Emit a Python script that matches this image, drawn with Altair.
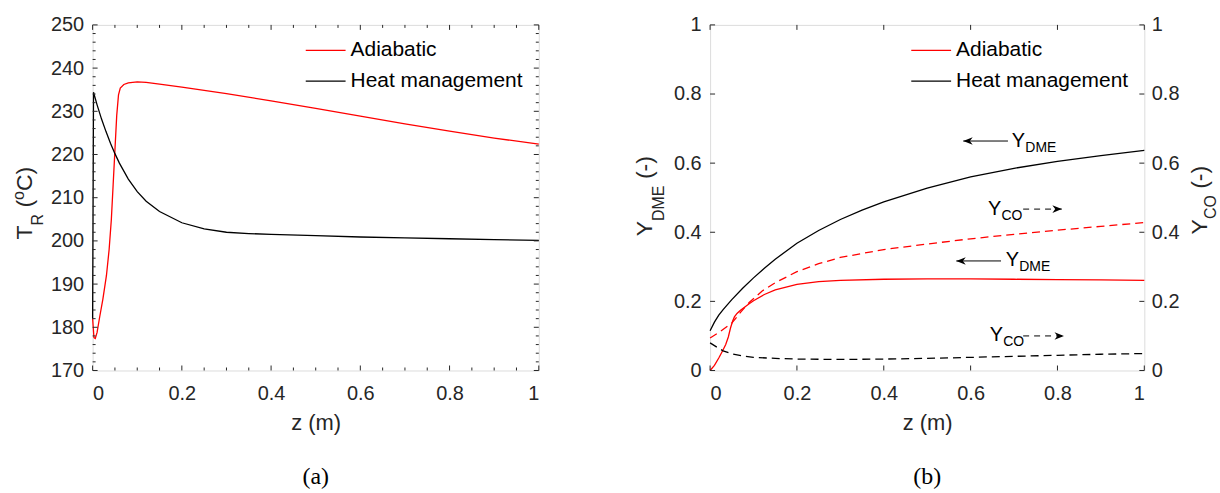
import altair as alt
import pandas as pd

# ---------------- data: panel (a) ----------------
z_TA = [0, 0.003, 0.006, 0.010, 0.016, 0.023, 0.031, 0.037, 0.042, 0.046, 0.050, 0.054,
        0.058, 0.062, 0.070, 0.080, 0.100, 0.120, 0.150, 0.200, 0.300, 0.400, 0.500,
        0.600, 0.700, 0.800, 0.900, 1.000]
T_A = [182.0, 177.6, 177.4, 178.8, 182.5, 186.5, 192.0, 198.0, 205.0, 213.0, 221.0, 229.0,
       233.8, 235.4, 236.2, 236.6, 236.8, 236.7, 236.3, 235.6, 234.1, 232.4, 230.7,
       228.9, 227.1, 225.4, 223.8, 222.4]
z_TH = [0, 0.002, 0.010, 0.020, 0.030, 0.040, 0.050, 0.060, 0.080, 0.100, 0.120, 0.150,
        0.200, 0.250, 0.300, 0.350, 0.400, 0.500, 0.600, 0.700, 0.800, 0.900, 1.000]
T_H = [182.0, 234.4, 231.5, 228.2, 225.3, 222.6, 220.2, 218.0, 214.3, 211.4, 209.2, 206.8,
       204.2, 202.8, 202.0, 201.7, 201.5, 201.2, 200.9, 200.7, 200.5, 200.3, 200.1]

# ---------------- data: panel (b) ----------------
z_DA = [0, 0.010, 0.020, 0.028, 0.036, 0.042, 0.047, 0.052, 0.056, 0.062, 0.070, 0.080,
        0.090, 0.100, 0.125, 0.150, 0.200, 0.250, 0.300, 0.400, 0.500, 0.600, 0.700,
        0.800, 0.900, 1.000]
Y_DA = [0.0, 0.015, 0.036, 0.055, 0.075, 0.097, 0.123, 0.143, 0.155, 0.165, 0.174, 0.184,
        0.193, 0.202, 0.220, 0.233, 0.249, 0.257, 0.261, 0.264, 0.265, 0.265, 0.264,
        0.263, 0.262, 0.261]
z_DH = [0, 0.010, 0.020, 0.030, 0.050, 0.075, 0.100, 0.125, 0.150, 0.200, 0.250, 0.300,
        0.350, 0.400, 0.500, 0.600, 0.700, 0.800, 0.900, 1.000]
Y_DH = [0.115, 0.140, 0.160, 0.176, 0.205, 0.238, 0.268, 0.296, 0.322, 0.368, 0.405, 0.437,
        0.464, 0.488, 0.528, 0.560, 0.585, 0.605, 0.622, 0.637]
z_CA = [0, 0.020, 0.050, 0.070, 0.090, 0.120, 0.150, 0.200, 0.250, 0.300, 0.400, 0.500,
        0.600, 0.700, 0.800, 0.900, 1.000]
Y_CA = [0.094, 0.110, 0.137, 0.168, 0.197, 0.230, 0.254, 0.286, 0.309, 0.327, 0.350, 0.366,
        0.381, 0.394, 0.406, 0.417, 0.428]
z_CH = [0, 0.010, 0.020, 0.030, 0.050, 0.075, 0.100, 0.150, 0.200, 0.300, 0.400, 0.500,
        0.600, 0.700, 0.800, 0.900, 1.000]
Y_CH = [0.080, 0.072, 0.064, 0.057, 0.048, 0.042, 0.038, 0.035, 0.033, 0.032, 0.033, 0.035,
        0.038, 0.041, 0.044, 0.047, 0.049]

cases = ["Adiabatic", "Heat management"]
colors = ["#ff0000", "#000000"]

# ticks
x_major = [0, 0.2, 0.4, 0.6, 0.8, 1.0]
x_minor = [0.05, 0.1, 0.15, 0.25, 0.3, 0.35, 0.45, 0.5, 0.55, 0.65, 0.7, 0.75, 0.85, 0.9, 0.95]
Ta_major = [170, 180, 190, 200, 210, 220, 230, 240, 250]
Ta_minor = [v for v in range(172, 250, 2) if v % 10 != 0]
Yb_major = [0, 0.2, 0.4, 0.6, 0.8, 1.0]

# annotations in panel (b): label anchor, arrow start/end
ann_main = ["Y", "Y", "Y", "Y"]
ann_sub = ["DME", "DME", "CO", "CO"]
ann_lx = [0.695, 0.681, 0.640, 0.644]
ann_ly = [0.646, 0.301, 0.449, 0.084]
ann_ax1 = [0.686, 0.670, 0.721, 0.721]
ann_ax2 = [0.583, 0.567, 0.810, 0.815]
ann_ay = [0.664, 0.317, 0.467, 0.100]
ann_dash = [False, False, True, True]

FONT = "Liberation Sans"
SERIF = "Liberation Serif"
AX = "#262626"
W1, W2, H = 448, 436, 347
TK, MTK = 5, 3

xscale = alt.Scale(domain=[0, 1], nice=False, zero=False)
ysA = alt.Scale(domain=[170, 250], nice=False, zero=False)
ysB = alt.Scale(domain=[0, 1], nice=False, zero=False)
cscale = alt.Scale(domain=cases, range=colors)

XAX = alt.Axis(title="z (m)", values=x_major, format="~g", ticks=False, domain=False,
               grid=False, labelFontSize=20, labelFont=FONT, labelColor=AX,
               labelPadding=13, titleFontSize=22, titleFont=FONT, titleColor=AX,
               titleFontWeight="normal", titlePadding=9)
YAX_A = alt.Axis(title=None, values=Ta_major, format="d", ticks=False, domain=False, grid=False,
                 labelFontSize=20, labelFont=FONT, labelColor=AX, labelPadding=9)

def yaxis_b(orient):
    return alt.Axis(title=None, values=Yb_major, format="~g", ticks=False, domain=False,
                    grid=False, labelFontSize=20, labelFont=FONT, labelColor=AX,
                    labelPadding=9 if orient == "left" else 7, orient=orient)

def ticks_layers(xvals, yvals, yscale, yaxis, W, length):
    layers = []
    dx = pd.DataFrame({"v": xvals})
    dy = pd.DataFrame({"v": yvals})
    for (a, b) in [(H, H - length), (0, length)]:
        layers.append(alt.Chart(dx).mark_rule(color=AX, strokeWidth=1).encode(
            x=alt.X("v:Q", scale=xscale, axis=XAX), y=alt.value(a), y2=alt.value(b)))
    for (a, b) in [(0, length), (W - length, W)]:
        layers.append(alt.Chart(dy).mark_rule(color=AX, strokeWidth=1).encode(
            y=alt.Y("v:Q", scale=yscale, axis=yaxis), x=alt.value(a), x2=alt.value(b)))
    return layers

def legend_layers(x0):
    out = []
    d = pd.DataFrame({"a": [0]})
    for i, (c, col) in enumerate(zip(cases, colors)):
        yy = 25.5 + 31 * i
        out.append(alt.Chart(d).mark_rule(color=col, strokeWidth=1.3).encode(
            x=alt.value(x0), x2=alt.value(x0 + 40), y=alt.value(yy)))
        out.append(alt.Chart(d).mark_text(text=c, fontSize=21, font=FONT, color="black",
                                          align="left", baseline="middle").encode(
            x=alt.value(x0 + 45), y=alt.value(yy)))
    return out

ADV = {"T": .611, "R": .722, " ": .278, "(": .333, ")": .333, "o": .556, "C": .722,
       "Y": .667, "D": .722, "M": .833, "E": .667, "-": .333, "O": .778}

def rot_title(pieces, xbase, ycenter):
    """pieces: (text, fontsize, shift); rotated 270, reading upward."""
    total = sum(sum(ADV[c] for c in t) * fs for t, fs, s in pieces)
    y = ycenter + total / 2
    out = []
    d = pd.DataFrame({"a": [0]})
    for t, fs, s in pieces:
        lead = len(t) - len(t.lstrip(" "))
        y -= ADV[" "] * fs * lead
        txt = t.strip(" ")
        if txt:
            out.append(alt.Chart(d).mark_text(text=txt, fontSize=fs, font=FONT, color=AX,
                                              angle=270, align="left",
                                              baseline="alphabetic").encode(
                x=alt.value(xbase + s), y=alt.value(y)))
        y -= sum(ADV[c] for c in txt) * fs
    return out

# ---------------- panel (a) ----------------
dfA = pd.concat([
    pd.DataFrame({"z": z_TA, "v": T_A, "case": cases[0]}),
    pd.DataFrame({"z": z_TH, "v": T_H, "case": cases[1]}),
])
linesA = alt.Chart(dfA).mark_line(strokeWidth=1.3).encode(
    x=alt.X("z:Q", scale=xscale, axis=XAX),
    y=alt.Y("v:Q", scale=ysA, axis=YAX_A),
    color=alt.Color("case:N", scale=cscale, legend=None),
    detail="case:N",
)
layersA = [linesA]
layersA += ticks_layers(x_major, Ta_major, ysA, YAX_A, W1, TK)
layersA += ticks_layers(x_minor, Ta_minor, ysA, YAX_A, W1, MTK)
layersA += legend_layers(214)
layersA += rot_title([("T", 23, 0), ("R", 16, 11), (" (", 23, 0), ("o", 16, -8), ("C)", 23, 0)],
                     -61, 179)
panelA = alt.layer(*layersA).properties(
    width=W1, height=H,
    title=alt.TitleParams("(a)", orient="bottom", font=SERIF, fontSize=24, fontWeight="normal",
                          color="black", offset=32, anchor="middle", frame="group"))

# ---------------- panel (b) ----------------
dfD = pd.concat([
    pd.DataFrame({"z": z_DA, "v": Y_DA, "case": cases[0]}),
    pd.DataFrame({"z": z_DH, "v": Y_DH, "case": cases[1]}),
])
dfC = pd.concat([
    pd.DataFrame({"z": z_CA, "v": Y_CA, "case": cases[0]}),
    pd.DataFrame({"z": z_CH, "v": Y_CH, "case": cases[1]}),
])
linesD = alt.Chart(dfD).mark_line(strokeWidth=1.3).encode(
    x=alt.X("z:Q", scale=xscale, axis=XAX),
    y=alt.Y("v:Q", scale=ysB, axis=yaxis_b("left")),
    color=alt.Color("case:N", scale=cscale, legend=None),
    detail="case:N",
)
linesC = alt.Chart(dfC).mark_line(strokeWidth=1.3, strokeDash=[8, 5]).encode(
    x=alt.X("z:Q", scale=xscale, axis=XAX),
    y=alt.Y("v:Q", scale=ysB, axis=yaxis_b("right")),
    color=alt.Color("case:N", scale=cscale, legend=None),
    detail="case:N",
)
ann = pd.DataFrame({"m": ann_main, "s": ann_sub, "lx": ann_lx, "ly": ann_ly,
                    "ax1": ann_ax1, "ax2": ann_ax2, "ay": ann_ay, "dash": ann_dash})
annS = ann[~ann["dash"]]
annD = ann[ann["dash"]]
LEFT_HEAD = "M0,0 L2,-0.8 L1.4,0 L2,0.8 Z"
RIGHT_HEAD = "M0,0 L-2,-0.8 L-1.4,0 L-2,0.8 Z"

def yb(field):
    return alt.Y(field, scale=ysB, axis=None)

def xb(field):
    return alt.X(field, scale=xscale, axis=XAX)

annLayers = [
    alt.Chart(ann).mark_text(align="left", baseline="alphabetic", fontSize=20, font=FONT,
                             color="black").encode(x=xb("lx:Q"), y=yb("ly:Q"), text="m:N"),
    alt.Chart(ann).mark_text(align="left", baseline="alphabetic", fontSize=14, font=FONT,
                             color="black", dx=13.5, dy=5).encode(
        x=xb("lx:Q"), y=yb("ly:Q"), text="s:N"),
    alt.Chart(annS).mark_rule(color="black", strokeWidth=1).encode(
        x=xb("ax1:Q"), x2="ax2:Q", y=yb("ay:Q")),
    alt.Chart(annD).mark_rule(color="black", strokeWidth=1, strokeDash=[6, 5]).encode(
        x=xb("ax1:Q"), x2="ax2:Q", y=yb("ay:Q")),
    alt.Chart(annS).mark_point(shape=LEFT_HEAD, filled=True, size=90, color="black",
                               opacity=1).encode(x=xb("ax2:Q"), y=yb("ay:Q")),
    alt.Chart(annD).mark_point(shape=RIGHT_HEAD, filled=True, size=90, color="black",
                               opacity=1).encode(x=xb("ax2:Q"), y=yb("ay:Q")),
]
layersB = [linesD, linesC]
layersB += ticks_layers(x_major, Yb_major, ysB, None, W2, TK)
layersB += annLayers
layersB += legend_layers(202)
layersB += rot_title([("Y", 23, 0), ("DME", 16, 12), (" (-)", 23, 0)], -58, 172)
layersB += rot_title([("Y", 23, 0), ("CO", 16, 9), (" (-)", 23, 0)], W2 + 63, 176)
panelB = alt.layer(*layersB).resolve_scale(y="independent").properties(
    width=W2, height=H,
    title=alt.TitleParams("(b)", orient="bottom", font=SERIF, fontSize=24, fontWeight="normal",
                          color="black", offset=32, anchor="middle", frame="group"))

chart = alt.hconcat(panelA, panelB, spacing=91).properties(
    padding={"left": 10, "top": 13, "right": 0, "bottom": 0}
).configure_view(stroke=AX, strokeWidth=1).configure(background="white")

chart.save("out.html", embed_options={"renderer": "svg", "actions": False})
